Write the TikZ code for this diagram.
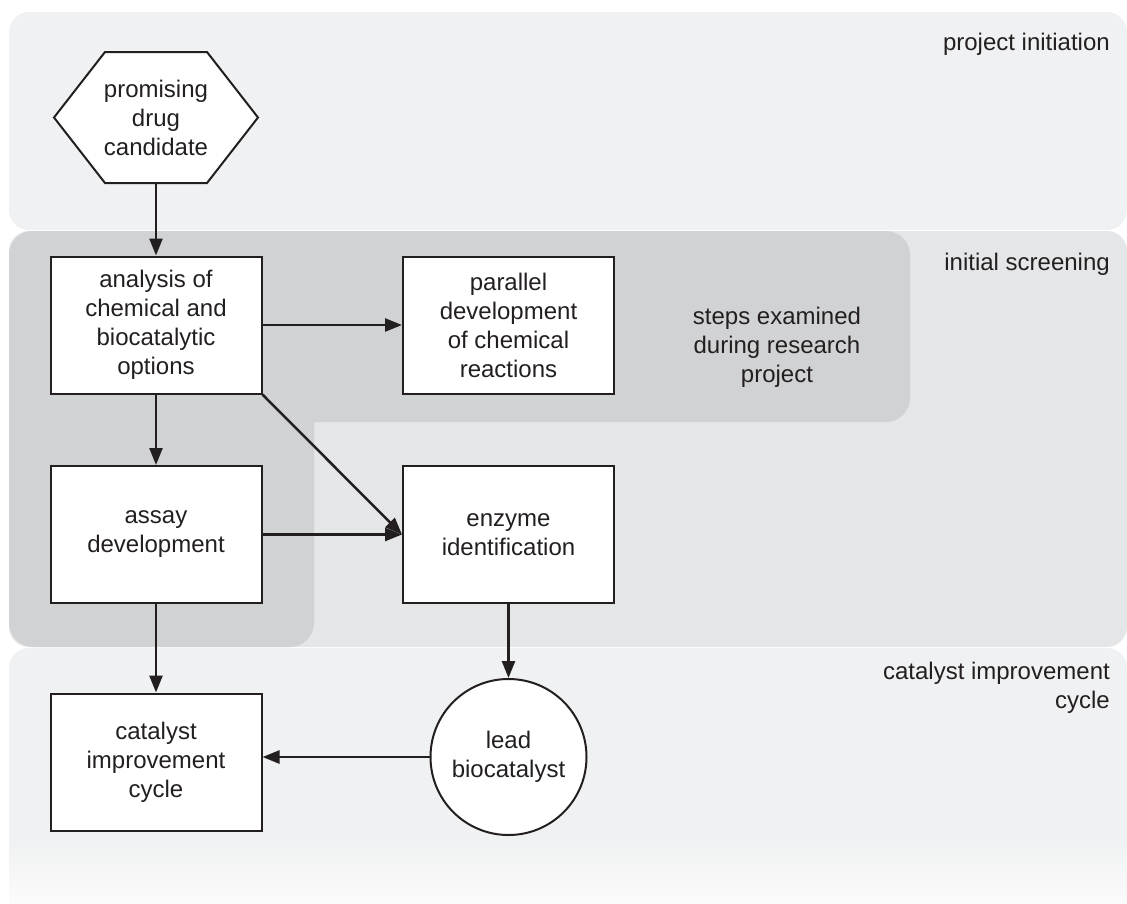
\documentclass[tikz,border=0pt]{standalone}
\usepackage{fontspec}
\setmainfont{Liberation Sans}
\usetikzlibrary{arrows.meta,calc}
\definecolor{ink}{HTML}{231F20}
\definecolor{bandlight}{HTML}{F0F1F2}
\definecolor{bandmid}{HTML}{E5E6E8}
\definecolor{banddark}{HTML}{D1D2D4}
\definecolor{fadeend}{HTML}{FBFBFB}
\begin{document}
\begin{tikzpicture}[x=1pt,y=-1pt,
  lbl/.style={font=\fontsize{24}{29}\selectfont, text=ink, align=center, inner sep=0pt},
  stepbox/.style={lbl, draw=ink, line width=2pt, fill=white,
    minimum width=211pt, minimum height=137pt},
  roundbox/.style={lbl, circle, draw=ink, line width=2pt, fill=white,
    minimum size=156pt},
  hexbox/.style={lbl, minimum width=208pt, minimum height=135pt,
    path picture={
      \draw[ink, line width=2pt, fill=white]
        ([xshift=2pt]path picture bounding box.west)
        -- ([xshift=53pt,yshift=-2pt]path picture bounding box.north west)
        -- ([xshift=-53pt,yshift=-2pt]path picture bounding box.north east)
        -- ([xshift=-2pt]path picture bounding box.east)
        -- ([xshift=-53pt,yshift=2pt]path picture bounding box.south east)
        -- ([xshift=53pt,yshift=2pt]path picture bounding box.south west)
        -- cycle;}},
  zonelabel/.style={lbl, align=right, anchor=east},
  flow/.style={draw=ink, line width=2.5pt, -{Triangle[length=17pt,width=13pt]}},
]
\useasboundingbox (0,0) rectangle (1127,903);

% phase bands
\fill[bandlight, rounded corners=20] (9,12) rectangle (1127,230);
\fill[bandmid, rounded corners=20] (9,231) rectangle (1127,647);
\fill[bandlight, rounded corners=20] (9,648) rectangle (1127,940);
\shade[top color=bandlight, bottom color=fadeend] (9,840) rectangle (1127,903);

% L-shaped area of the research-project steps
\fill[banddark, rounded corners=24] (9,231) rectangle (910,422);
\fill[banddark, rounded corners=24] (9,231) rectangle (314,647);

% zone labels
\node[zonelabel] (lblinit) at (1110,44) {project initiation};
\node[zonelabel] (lblscreen) at (1110,264) {initial screening};
\node[zonelabel] (lblcycle) at (1110,688) {catalyst improvement\\cycle};
\node[lbl] (lblsteps) at (777,347) {steps examined\\during research\\project};

% flow nodes
\node[hexbox] (hex) at (156,117.5) {promising\\drug\\candidate};
\node[stepbox] (analysis) at (156,325) {analysis of\\chemical and\\biocatalytic\\options};
\node[stepbox] (parallel) at (508.5,325) {parallel\\development\\of chemical\\reactions};
\node[stepbox] (assay) at (156,534.5) {assay\\development};
\node[stepbox] (enzyme) at (508.5,534.5) {enzyme\\identification};
\node[stepbox] (catalyst) at (156,762) {catalyst\\improvement\\cycle};
\node[roundbox] (lead) at (508.5,757) {lead\\biocatalyst};

% connectors
\draw[flow, shorten <=-2pt] (hex.south) -- (analysis.north);
\draw[flow] (analysis.east) -- (parallel.west);
\draw[flow] (analysis.south) -- (assay.north);
\draw[flow] (analysis.south east) -- (enzyme.west);
\draw[flow] (assay.east) -- (enzyme.west);
\draw[flow] (assay.south) -- (catalyst.north);
\draw[flow] (enzyme.south) -- (lead.north);
\draw[flow] (lead.west) -- (lead.west -| catalyst.east);
\end{tikzpicture}
\end{document}
